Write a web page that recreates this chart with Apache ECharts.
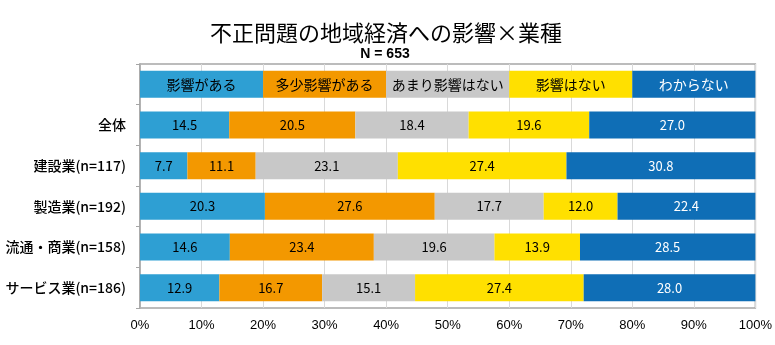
<!DOCTYPE html>
<html><head><meta charset="utf-8">
<script src="https://cdn.jsdelivr.net/npm/echarts@6/dist/echarts.min.js"></script>
<style>html,body{margin:0;padding:0;background:#fff}#c{width:775px;height:345px}</style>
</head><body><div id="c"></div>
<script>
const categories = ['', '全体', '建設業(n=117)', '製造業(n=192)', '流通・商業(n=158)', 'サービス業(n=186)'];
const seriesNames = ['影響がある', '多少影響がある', 'あまり影響はない', '影響はない', 'わからない'];
const headerShares = [20, 20, 20, 20, 20];
const s1 = [14.5, 7.7, 20.3, 14.6, 12.9];
const s2 = [20.5, 11.1, 27.6, 23.4, 16.7];
const s3 = [18.4, 23.1, 17.7, 19.6, 15.1];
const s4 = [19.6, 27.4, 12.0, 13.9, 27.4];
const s5 = [27.0, 30.8, 22.4, 28.5, 28.0];
const xTicks = [0, 10, 20, 30, 40, 50, 60, 70, 80, 90, 100];
const colors = ['#2E9FD3', '#F39800', '#C8C8C8', '#FFE000', '#0F6EB6'];
const labelColors = ['#000', '#000', '#000', '#000', '#fff'];
const values = [s1, s2, s3, s4, s5];
const FONT = '"Noto Sans CJK JP", "Noto Sans", sans-serif';

const chart = echarts.init(document.getElementById('c'));
chart.setOption({
  animation: false,
  title: [{
    text: '不正問題の地域経済への影響×業種',
    left: 381, top: 17, textAlign: 'center',
    textStyle: { fontFamily: FONT, fontSize: 22, fontWeight: 'normal', color: '#000' }
  }, {
    text: 'N = 653',
    left: 380, top: 42, textAlign: 'center',
    textStyle: { fontFamily: '"Liberation Sans", Arial, sans-serif', fontSize: 14, fontWeight: 'bold', color: '#000' }
  }],
  grid: { left: 140, right: 19, top: 64, bottom: 37, show: true, borderColor: '#A6A6A6', borderWidth: 1.5 },
  xAxis: {
    type: 'value', min: 0, max: 100, interval: 10,
    axisLabel: { formatter: v => xTicks.includes(v) ? v + '%' : '', fontFamily: '"Liberation Sans", sans-serif', fontSize: 13, color: '#000', margin: 11 },
    splitLine: { lineStyle: { color: '#D9D9D9', width: 1 } },
    axisLine: { show: false }, axisTick: { show: false }
  },
  yAxis: {
    type: 'category', data: categories, inverse: true,
    axisLabel: { fontFamily: FONT, fontSize: 14, fontWeight: 500, color: '#000', margin: 14 },
    axisLine: { show: true, lineStyle: { color: '#A6A6A6', width: 1.5 } },
    axisTick: { show: true, length: 4, lineStyle: { color: '#A6A6A6' } }
  },
  series: seriesNames.map((name, i) => ({
    name, type: 'bar', stack: 'total', barWidth: 27,
    itemStyle: { color: colors[i] },
    label: {
      show: true, position: 'inside', color: labelColors[i],
      fontFamily: FONT,
      formatter: p => p.dataIndex === 0 ? '{h|' + name + '}' : Number(p.value).toFixed(1),
      fontSize: 13,
      rich: { h: { fontSize: 14, fontFamily: FONT, color: labelColors[i] } }
    },
    data: [headerShares[i]].concat(values[i])
  }))
});
</script></body></html>
